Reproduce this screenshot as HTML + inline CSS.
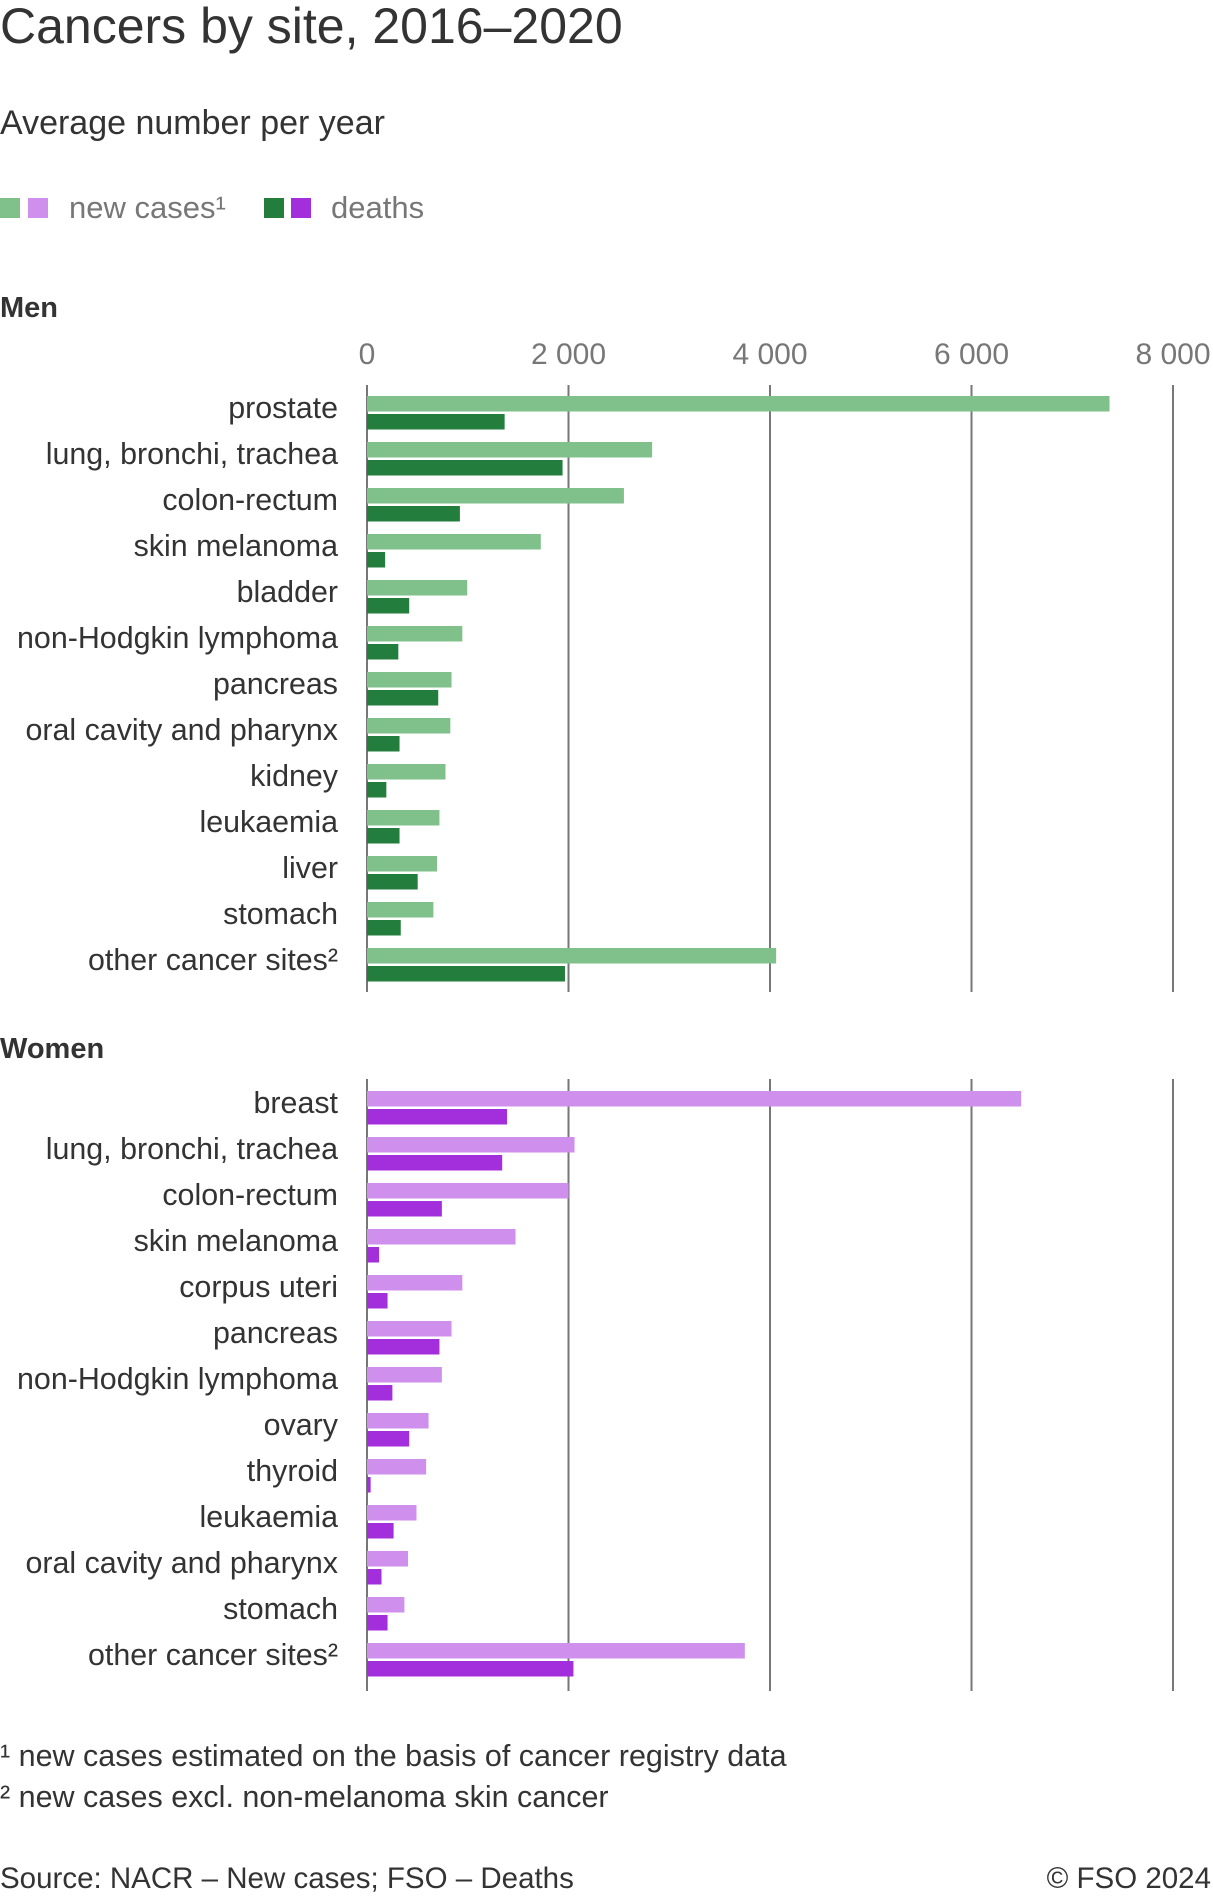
<!DOCTYPE html>
<html><head><meta charset="utf-8"><style>
body{margin:0;background:#fff;font-family:"Liberation Sans",sans-serif;}
#w{position:relative;width:1213px;height:1899px;overflow:hidden}
.t{position:absolute;white-space:nowrap;color:#333}
</style></head><body><div id="w">
<div class="t" style="left:0;top:-3px;font-size:50px">Cancers by site, 2016–2020</div>
<div class="t" style="left:0;top:104px;font-size:34px">Average number per year</div>
<div>
<div style="position:absolute;left:0;top:198px;width:20px;height:20px;background:#7fc08b"></div>
<div style="position:absolute;left:28px;top:198px;width:20px;height:20px;background:#cf8fec"></div>
<div class="t" style="left:69px;top:190px;font-size:31px;color:#777">new cases¹</div>
<div style="position:absolute;left:264px;top:198px;width:20px;height:20px;background:#237d3c"></div>
<div style="position:absolute;left:291px;top:198px;width:20px;height:20px;background:#a22fdb"></div>
<div class="t" style="left:331px;top:190px;font-size:31px;color:#777">deaths</div>
</div>
<div class="t" style="left:0;top:292px;font-size:29px;font-weight:bold">Men</div>
<div class="t" style="left:0;top:1033px;font-size:29px;font-weight:bold">Women</div>
<svg id="c" width="1213" height="1899" style="position:absolute;left:0;top:0"></svg>
<div class="t" style="left:0;top:1739px;font-size:30.5px">¹ new cases estimated on the basis of cancer registry data</div>
<div class="t" style="left:0;top:1780px;font-size:30.5px">² new cases excl. non-melanoma skin cancer</div>
<div class="t" style="left:0;top:1862px;font-size:29.5px">Source: NACR – New cases; FSO – Deaths</div>
<div class="t" style="right:2px;top:1862px;font-size:29.5px">© FSO 2024</div>
</div>
<script>
const menCats=["prostate","lung, bronchi, trachea","colon-rectum","skin melanoma","bladder","non-Hodgkin lymphoma","pancreas","oral cavity and pharynx","kidney","leukaemia","liver","stomach","other cancer sites²"];
const menNew=[7370,2830,2550,1725,995,946,839,827,779,719,695,659,4061];
const menDeaths=[1366,1941,922,180,419,311,707,323,192,323,503,335,1965];
const womenCats=["breast","lung, bronchi, trachea","colon-rectum","skin melanoma","corpus uteri","pancreas","non-Hodgkin lymphoma","ovary","thyroid","leukaemia","oral cavity and pharynx","stomach","other cancer sites²"];
const womenNew=[6493,2060,2000,1474,946,839,743,611,587,491,407,371,3750];
const womenDeaths=[1390,1342,743,120,204,719,252,419,36,264,144,204,2049];
const ticks=[0,2000,4000,6000,8000];
const tickLabels=["0","2 000","4 000","6 000","8 000"];
const svg=document.getElementById('c');const NS="http://www.w3.org/2000/svg";
const x=v=>367+v*(1173-367)/8000;
function mk(t,a){const e=document.createElementNS(NS,t);for(const k in a)e.setAttribute(k,a[k]);svg.appendChild(e);return e;}
ticks.forEach((t,i)=>{
 const tl=mk('text',{x:x(t),y:364,'text-anchor':'middle','font-size':30,fill:'#777','font-family':'Liberation Sans'});tl.textContent=tickLabels[i];
 
 
});
function panel(cats,nv,dv,top,gTop,gBot,cl,cd,key){
 ticks.forEach(t=>{const l=mk('line',{x1:x(t),x2:x(t),y1:gTop,y2:gBot,stroke:'#777','stroke-width':2});
 
 });
 cats.forEach((c,i)=>{const y=top+i*46;
  const a=mk('rect',{x:x(0),y:y,width:x(nv[i])-x(0),height:15.5,fill:cl});
  
  
  const b=mk('rect',{x:x(0),y:y+18,width:x(dv[i])-x(0),height:15.5,fill:cd});
  
  
  const t=mk('text',{x:338,y:y+22,'text-anchor':'end','font-size':30.4,fill:'#333','font-family':'Liberation Sans'});t.textContent=c;
  
  
 });
}
panel(menCats,menNew,menDeaths,396,385,992,'#7fc08b','#237d3c','men');
panel(womenCats,womenNew,womenDeaths,1091,1079,1691,'#cf8fec','#a22fdb','women');
</script></body></html>
